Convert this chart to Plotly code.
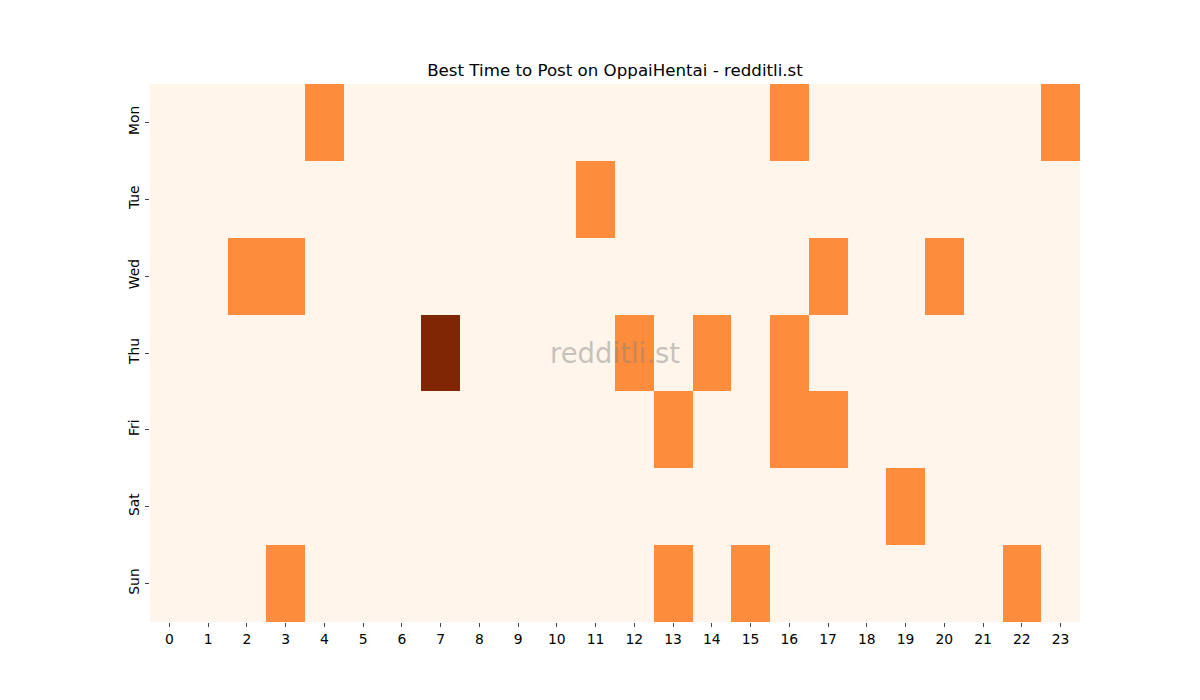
import plotly.graph_objects as go

days = ["Mon", "Tue", "Wed", "Thu", "Fri", "Sat", "Sun"]
hours = list(range(24))
# value grid: 0 = low, 1 = medium, 2 = high
active = {
    "Mon": {4: 1, 16: 1, 23: 1},
    "Tue": {11: 1},
    "Wed": {2: 1, 3: 1, 17: 1, 20: 1},
    "Thu": {7: 2, 12: 1, 14: 1, 16: 1},
    "Fri": {13: 1, 16: 1, 17: 1},
    "Sat": {19: 1},
    "Sun": {3: 1, 13: 1, 15: 1, 22: 1},
}
z = [[active[d].get(h, 0) for h in hours] for d in days]

colorscale = [[0.0, "#fff5eb"], [0.5, "#fd8d3c"], [1.0, "#7f2704"]]

fig = go.Figure(go.Heatmap(
    z=z, x=hours, y=days, colorscale=colorscale, zmin=0, zmax=2,
    showscale=False, hoverongaps=False,
))

fig.update_layout(
    width=1200, height=700,
    margin=dict(l=142, r=128, t=76, b=86),
    paper_bgcolor="white", plot_bgcolor="white",
    font=dict(family="DejaVu Sans", size=13.9, color="black"),
    title=dict(text="Best Time to Post on OppaiHentai - redditli.st",
               x=0.5, xref="paper", xanchor="center",
               y=1 - 62 / 700, yref="container", yanchor="middle",
               font=dict(size=16.67, color="black")),
    annotations=[dict(text="redditli.st", x=0.5, y=0.5, xref="paper", yref="paper",
                      showarrow=False, font=dict(size=27.5, color="rgba(128,128,128,0.45)"))],
)
fig.update_xaxes(tickmode="array", tickvals=hours, ticktext=[str(h) for h in hours],
                 ticks="outside", ticklen=4, showgrid=False, zeroline=False,
                 tickfont=dict(size=13.9))
fig.update_yaxes(autorange="reversed", ticks="outside", ticklen=4, tickangle=-90,
                 showgrid=False, zeroline=False, tickfont=dict(size=13.9))

fig.write_html("out.html")
